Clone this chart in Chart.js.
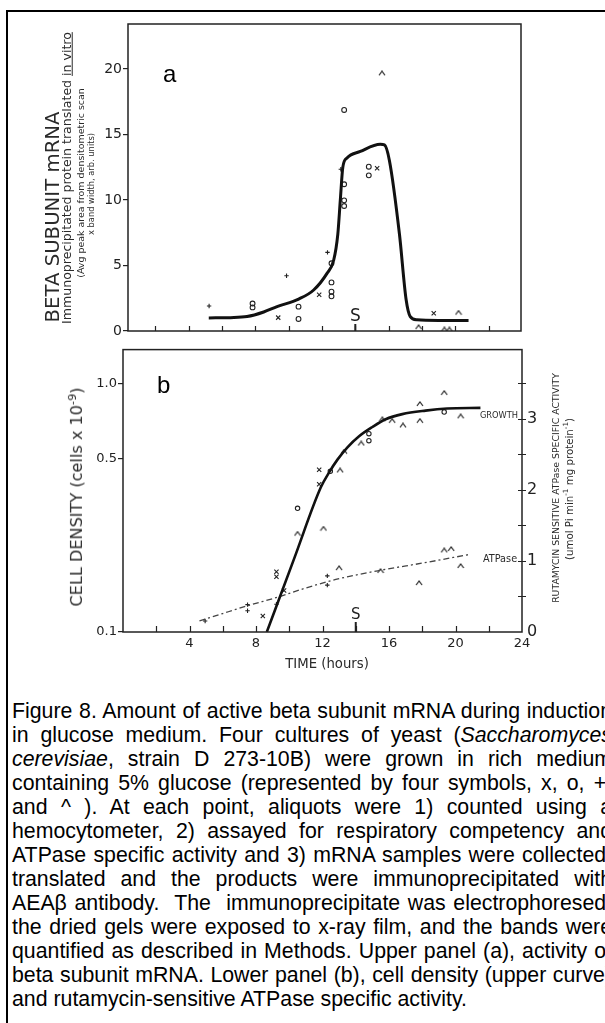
<!DOCTYPE html>
<html>
<head>
<meta charset="utf-8">
<title>Figure 8</title>
<script src="https://cdn.jsdelivr.net/npm/chart.js@4.4.0/dist/chart.umd.min.js"></script>
<style>
  html, body { margin: 0; padding: 0; background: #fff; }
  body { width: 605px; height: 1023px; overflow: hidden; position: relative; font-family: "Liberation Sans", Arial, sans-serif; }
  #frame { position: absolute; left: 6px; top: 10px; width: 720px; height: 1100px; border: 2px solid #000; box-sizing: border-box; }
  .wrap { position: absolute; left: 0; width: 605px; height: 345px; }
  .rot, .lbl { position: absolute; white-space: nowrap; font-family: "DejaVu Sans", sans-serif; color: #2a2a2a; line-height: 1; font-size: 12px; }
  .rot { transform: translate(-50%, -50%) rotate(-90deg); }
  .lbl { transform: translate(-50%, -50%); }
  sup { font-size: 0.7em; vertical-align: super; line-height: 0; }
  .panel { position: absolute; font-family: "Liberation Sans", Arial, sans-serif; font-size: 24px; line-height: 1; color: #000; }
  #caption { position: absolute; left: 12px; top: 699px; width: 600px; font-size: 21.3px; line-height: 24px; color: #000; }
  #caption div { text-align: justify; text-align-last: justify; }
  #caption div.last { text-align-last: left; }
</style>
</head>
<body>
<div id="frame"></div>

<div class="wrap" style="top:0"><canvas id="chartA" width="605" height="345"></canvas></div>
<div class="wrap" style="top:335px"><canvas id="chartB" width="605" height="345"></canvas></div>

<!-- axis titles -->
<div class="rot" data-len="212" style="left:53px; top:217px">BETA SUBUNIT mRNA</div>
<div class="rot" data-len="292" style="left:67px; top:178px">Immunoprecipitated protein translated <u>in vitro</u></div>
<div class="rot" data-len="190" style="left:81px; top:183px">(Avg peak area from densitometric scan</div>
<div class="rot" data-len="102" style="left:91px; top:184px">x band width, arb. units)</div>

<div class="rot" data-len="219" style="left:77px; top:497px">CELL DENSITY (cells x 10<sup>-9</sup>)</div>
<div class="rot" data-len="230" style="left:556px; top:488px">RUTAMYCIN SENSITIVE ATPase SPECIFIC ACTIVITY</div>
<div class="rot" data-len="142" style="left:569px; top:489px">(umol Pi min<sup>-1</sup> mg protein<sup>-1</sup>)</div>

<div class="lbl" data-len="84" style="left:327px; top:664px">TIME (hours)</div>
<div class="lbl" data-len="38" style="left:499px; top:415px">GROWTH</div>
<div class="lbl" data-len="34" style="left:500px; top:559px">ATPase</div>

<div class="panel" style="left:163px; top:62px">a</div>
<div class="panel" style="left:157px; top:373px">b</div>

<div id="caption">
  <div>Figure 8. Amount of active beta subunit mRNA during induction</div>
  <div>in glucose medium. Four cultures of yeast (<i>Saccharomyces</i></div>
  <div><i>cerevisiae</i>, strain D 273-10B) were grown in rich medium</div>
  <div>containing 5% glucose (represented by four symbols, x, o, +,</div>
  <div>and ^ ). At each point, aliquots were 1) counted using a</div>
  <div>hemocytometer, 2) assayed for respiratory competency and</div>
  <div>ATPase specific activity and 3) mRNA samples were collected,</div>
  <div>translated and the products were immunoprecipitated with</div>
  <div>AEAβ antibody.&nbsp; The&nbsp; immunoprecipitate was electrophoresed,</div>
  <div>the dried gels were exposed to x-ray film, and the bands were</div>
  <div>quantified as described in Methods. Upper panel (a), activity of</div>
  <div>beta subunit mRNA. Lower panel (b), cell density (upper curve)</div>
  <div class="last">and rutamycin-sensitive ATPase specific activity.</div>
</div>

<script>
// ---- data ----

// panel a: beta subunit mRNA activity (arb. units) vs time (hours)
const mrnaFitHours  = [5.2, 6.5, 7.5, 8.5, 9.3, 10.6, 11.5, 12.3, 12.7, 12.95, 13.1, 13.25, 13.5, 14.3, 15.5, 15.75, 16.05, 16.65, 17.05, 17.3, 17.7, 19.0, 20.8];
const mrnaFitValues = [1.0, 1.02, 1.1, 1.45, 1.86, 2.44, 3.13, 4.4, 5.4, 7.4, 10.0, 12.5, 13.2, 13.7, 14.25, 14.2, 13.0, 7.4, 2.4, 1.1, 0.85, 0.8, 0.8];

const mrnaXHours   = [9.37, 11.83, 15.31, 18.71];
const mrnaXValues  = [1.02, 2.77, 12.42, 1.35];
const mrnaOHours   = [7.83, 7.83, 10.59, 10.59, 12.57, 12.57, 12.57, 12.57, 13.33, 13.33, 13.33, 13.33, 14.81, 14.81];
const mrnaOValues  = [2.1, 1.8, 1.86, 0.92, 5.17, 3.71, 3.0, 2.65, 16.87, 11.2, 9.97, 9.54, 12.54, 11.88];
const mrnaPlusHours  = [5.22, 9.87, 12.33, 13.13];
const mrnaPlusValues = [1.91, 4.22, 6.0, 12.34];
const mrnaCaretHours  = [15.6, 17.8, 19.35, 19.65, 20.2];
const mrnaCaretValues = [19.67, 0.3, 0.12, 0.12, 1.4];

// panel b: cell density (log scale) and ATPase activity (right axis)
const growthFitHours = [8.65, 10.3, 11.9, 12.4, 12.9, 13.5, 14.2, 15.0, 15.8, 16.8, 18.2, 19.5, 21.5];
const growthFitCells = [0.1, 0.198, 0.383, 0.44, 0.495, 0.555, 0.615, 0.67, 0.72, 0.755, 0.78, 0.795, 0.8];

const growthXHours = [8.41, 9.23, 9.23, 9.69, 11.8, 11.8];
const growthXCells = [0.116, 0.175, 0.167, 0.147, 0.451, 0.394];
const growthOHours = [10.5, 12.47, 14.79, 14.79, 19.32];
const growthOCells = [0.315, 0.444, 0.63, 0.59, 0.77];
const growthCaretHours = [10.5, 12.06, 13.06, 13.29, 14.33, 15.6, 16.19, 16.84, 17.86, 17.86, 19.32, 20.31];
const growthCaretCells = [0.249, 0.261, 0.448, 0.533, 0.575, 0.72, 0.71, 0.68, 0.83, 0.71, 0.92, 0.74];

const atpFitHours    = [4.6, 6.0, 7.5, 9.3, 11.0, 12.8, 15.5, 18.0, 20.8];
const atpFitActivity = [0.155, 0.26, 0.37, 0.49, 0.62, 0.74, 0.87, 0.97, 1.09];
const atpPlusHours    = [4.94, 7.49, 7.49, 9.23, 12.29, 12.29];
const atpPlusActivity = [0.155, 0.385, 0.30, 0.39, 0.79, 0.66];
const atpCaretHours    = [13.0, 15.49, 17.81, 19.32, 19.74, 20.31];
const atpCaretActivity = [0.9, 0.86, 0.69, 1.15, 1.17, 0.93];

// axes
const timeTickHours  = [2, 4, 6, 8, 10, 12, 14, 16, 18, 20, 22];
const timeLabelHours = [4, 8, 12, 16, 20, 24];
const sampleHour     = 14;   // the "S" mark
const mrnaTickValues = [0, 5, 10, 15, 20];
const cellTickValues = [0.1, 0.5, 1.0];
const atpLabelValues = [0, 1, 2, 3];
const atpTickValues  = [0.5, 1, 1.5, 2, 2.5, 3, 3.5];

// ---- helpers ----
const pts = (xs, ys) => xs.map((x, i) => ({ x: x, y: ys[i] }));
const fixTicks = values => s => { s.ticks = values.map(v => ({ value: v })); };

function makeCaret() {
  const c = document.createElement('canvas');
  c.width = 8; c.height = 6;
  const g = c.getContext('2d');
  g.strokeStyle = '#222';
  g.lineWidth = 1.2;
  g.beginPath(); g.moveTo(1, 5); g.lineTo(4, 1); g.lineTo(7, 5); g.stroke();
  return c;
}
const caret = makeCaret();

// scale text labels so they span the same length as in the figure
document.querySelectorAll('[data-len]').forEach(el => {
  const base = parseFloat(getComputedStyle(el).fontSize);
  el.style.fontSize = (base * el.dataset.len / el.offsetWidth) + 'px';
});

Chart.defaults.font.family = '"DejaVu Sans", sans-serif';
Chart.defaults.color = '#222';

// box, inward time ticks, S mark and crossing right-axis ticks
const frameAndTicks = {
  id: 'frameAndTicks',
  afterDatasetsDraw(chart, args, o) {
    const { ctx, chartArea: a } = chart;
    const xs = chart.scales.x;
    ctx.save();
    ctx.strokeStyle = '#222';
    ctx.lineWidth = 1.5;
    ctx.strokeRect(a.left, a.top, a.right - a.left, a.bottom - a.top);

    ctx.lineWidth = 1.2;
    ctx.beginPath();
    timeTickHours.forEach(h => {
      const px = Math.round(xs.getPixelForValue(h)) + 0.5;
      ctx.moveTo(px, a.bottom);
      ctx.lineTo(px, a.bottom - o.len);
    });
    ctx.stroke();

    const sx = xs.getPixelForValue(sampleHour);
    ctx.lineWidth = 2;
    ctx.beginPath();
    ctx.moveTo(sx, a.bottom);
    ctx.lineTo(sx, a.bottom - o.sLen);
    ctx.stroke();
    ctx.fillStyle = '#222';
    ctx.font = o.sFont;
    ctx.textAlign = 'center';
    ctx.textBaseline = 'bottom';
    ctx.fillText('S', sx, a.bottom - o.sLen + 1);

    if (o.rightAxis) {
      const ys = chart.scales[o.rightAxis];
      ctx.lineWidth = 1.2;
      ctx.beginPath();
      atpTickValues.forEach(v => {
        const py = Math.round(ys.getPixelForValue(v)) + 0.5;
        ctx.moveTo(a.right - 4, py);
        ctx.lineTo(a.right + 4, py);
      });
      ctx.stroke();
    }
    ctx.restore();
  }
};

const pointBase = { borderColor: '#222', backgroundColor: 'rgba(0,0,0,0)', pointBorderWidth: 1.1 };

// ---- panel a ----
new Chart(document.getElementById('chartA'), {
  type: 'scatter',
  data: {
    datasets: [
      { label: 'fit', data: pts(mrnaFitHours, mrnaFitValues), showLine: true, borderColor: '#111', borderWidth: 3,
        pointRadius: 0, cubicInterpolationMode: 'monotone' },
      Object.assign({ label: 'x', data: pts(mrnaXHours, mrnaXValues), pointStyle: 'crossRot', pointRadius: 3 }, pointBase),
      Object.assign({ label: 'o', data: pts(mrnaOHours, mrnaOValues), pointStyle: 'circle', pointRadius: 2.4 }, pointBase),
      Object.assign({ label: '+', data: pts(mrnaPlusHours, mrnaPlusValues), pointStyle: 'cross', pointRadius: 2.2 }, pointBase),
      Object.assign({ label: '^', data: pts(mrnaCaretHours, mrnaCaretValues), pointStyle: caret, pointRadius: 3 }, pointBase)
    ]
  },
  options: {
    responsive: false,
    animation: false,
    events: [],
    layout: { autoPadding: false, padding: { left: 0, top: 24, right: 84, bottom: 0 } },
    plugins: {
      legend: { display: false },
      tooltip: { enabled: false },
      frameAndTicks: { len: 5, sLen: 7, sFont: '17px "DejaVu Sans", sans-serif' }
    },
    scales: {
      x: {
        type: 'linear', min: 0.35, max: 23.95,
        ticks: { display: false },
        grid: { display: false, drawTicks: false },
        border: { display: false },
        afterFit: s => { s.height = 14; }
      },
      y: {
        min: 0, max: 23.43,
        afterBuildTicks: fixTicks(mrnaTickValues),
        ticks: { padding: 1, font: { size: 14 } },
        grid: { drawOnChartArea: false, tickLength: 5, color: '#222', lineWidth: 1.2 },
        border: { display: false },
        afterFit: s => { s.width = 128; }
      }
    }
  },
  plugins: [frameAndTicks]
});

// ---- panel b ----
new Chart(document.getElementById('chartB'), {
  type: 'scatter',
  data: {
    datasets: [
      { label: 'growth', data: pts(growthFitHours, growthFitCells), yAxisID: 'y', showLine: true, borderColor: '#111',
        borderWidth: 2.6, pointRadius: 0, cubicInterpolationMode: 'monotone' },
      Object.assign({ label: 'x', data: pts(growthXHours, growthXCells), yAxisID: 'y', pointStyle: 'crossRot', pointRadius: 3 }, pointBase),
      Object.assign({ label: 'o', data: pts(growthOHours, growthOCells), yAxisID: 'y', pointStyle: 'circle', pointRadius: 2.2 }, pointBase),
      Object.assign({ label: '^', data: pts(growthCaretHours, growthCaretCells), yAxisID: 'y', pointStyle: caret, pointRadius: 3 }, pointBase),
      { label: 'ATPase', data: pts(atpFitHours, atpFitActivity), yAxisID: 'y2', showLine: true, borderColor: '#444',
        borderWidth: 1.3, borderDash: [6, 3, 2, 3], pointRadius: 0, cubicInterpolationMode: 'monotone' },
      Object.assign({ label: 'atp +', data: pts(atpPlusHours, atpPlusActivity), yAxisID: 'y2', pointStyle: 'cross', pointRadius: 2.2 }, pointBase),
      Object.assign({ label: 'atp ^', data: pts(atpCaretHours, atpCaretActivity), yAxisID: 'y2', pointStyle: caret, pointRadius: 3 }, pointBase)
    ]
  },
  options: {
    responsive: false,
    animation: false,
    events: [],
    layout: { autoPadding: false, padding: { left: 0, top: 8, right: 0, bottom: 0 } },
    plugins: {
      legend: { display: false },
      tooltip: { enabled: false },
      frameAndTicks: { len: 6, sLen: 10, sFont: '15px "DejaVu Sans", sans-serif', rightAxis: 'y2' }
    },
    scales: {
      x: {
        type: 'linear', min: 0, max: 24,
        afterBuildTicks: fixTicks(timeLabelHours),
        ticks: { padding: 4, font: { size: 13 } },
        grid: { display: false, drawTicks: false },
        border: { display: false },
        afterFit: s => { s.height = 48; }
      },
      y: {
        type: 'logarithmic', min: 0.1, max: 1.374,
        afterBuildTicks: fixTicks(cellTickValues),
        ticks: { padding: 1, font: { size: 13 }, callback: v => Number(v).toFixed(1) },
        grid: { drawOnChartArea: false, tickLength: 5, color: '#222', lineWidth: 1.2 },
        border: { display: false },
        afterFit: s => { s.width = 123; }
      },
      y2: {
        position: 'right', min: 0, max: 3.977,
        afterBuildTicks: fixTicks(atpLabelValues),
        ticks: { padding: 5, font: { size: 16 } },
        grid: { display: false, drawTicks: false },
        border: { display: false },
        afterFit: s => { s.width = 83; }
      }
    }
  },
  plugins: [frameAndTicks]
});
</script>
</body>
</html>
